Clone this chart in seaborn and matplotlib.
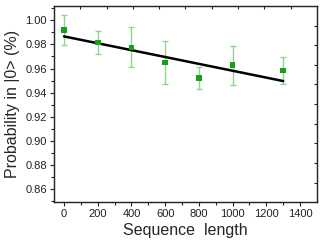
import numpy as np
import pandas as pd
import matplotlib
matplotlib.use("Agg")
import matplotlib.pyplot as plt
import seaborn as sns

# data
seq_len = [0, 200, 400, 600, 800, 1000, 1300]
prob = [0.9920, 0.9817, 0.9776, 0.9649, 0.9521, 0.9629, 0.9585]
prob_err = [0.0126, 0.0093, 0.0166, 0.0176, 0.0095, 0.0162, 0.0110]

# fitted line (end points)
fit_x = [0, 1300]
fit_y = [0.9867, 0.9496]

xticks = [0, 200, 400, 600, 800, 1000, 1200, 1400]
yticks = [0.86, 0.88, 0.90, 0.92, 0.94, 0.96, 0.98, 1.00]

df = pd.DataFrame({"x": seq_len, "y": prob, "err": prob_err})
fit = pd.DataFrame({"x": fit_x, "y": fit_y})

sns.set_style("ticks")
plt.rcParams["font.family"] = ["Liberation Sans", "DejaVu Sans"]

fig = plt.figure(figsize=(3.27, 2.48), dpi=100)
ax = fig.add_axes([0.165, 0.185, 0.804, 0.791])

ax.errorbar(df["x"], df["y"], yerr=df["err"], fmt="none", ecolor="#8fd48f",
            elinewidth=1.0, capsize=2.5, capthick=1.0, zorder=2)
sns.lineplot(data=fit, x="x", y="y", ax=ax, color="black", linewidth=1.8, zorder=3)
sns.scatterplot(data=df, x="x", y="y", ax=ax, marker="s", s=16, color="#19a019",
                edgecolor="none", zorder=4)

ax.set_xlim(-60, 1500)
ax.set_ylim(0.849, 1.012)
ax.set_xticks(xticks)
ax.set_yticks(yticks)
ax.set_yticklabels([f"{v:.2f}" for v in yticks])
ax.set_xticks(np.arange(100, 1500, 200), minor=True)
ax.set_yticks(np.arange(0.85, 1.011, 0.02), minor=True)
ax.tick_params(axis="both", which="major", direction="out", length=3, width=0.8,
               labelsize=8, colors="#222222", pad=2)
ax.tick_params(axis="both", which="minor", direction="out", length=2, width=0.8,
               colors="#222222")
for s in ax.spines.values():
    s.set_linewidth(0.9)
    s.set_color("#222222")

# the unlinked opposite axes
top = ax.twiny()
top.set_xlim(0, 1)
top.set_xticks(np.arange(0.1, 0.95, 0.1))
top.tick_params(axis="x", direction="in", length=2.5, width=0.8, labeltop=False,
                colors="#222222")
right = ax.twinx()
right.set_ylim(0, 1)
right.set_yticks(np.arange(0.1, 0.95, 0.1))
right.tick_params(axis="y", direction="in", length=2.5, width=0.8, labelright=False,
                  colors="#222222")

ax.set_xlabel("Sequence  length", fontsize=11.5, labelpad=3)
ax.set_ylabel("Probability in |0> (%)", fontsize=11.5, labelpad=4)

fig.savefig("out.png", dpi=100)
